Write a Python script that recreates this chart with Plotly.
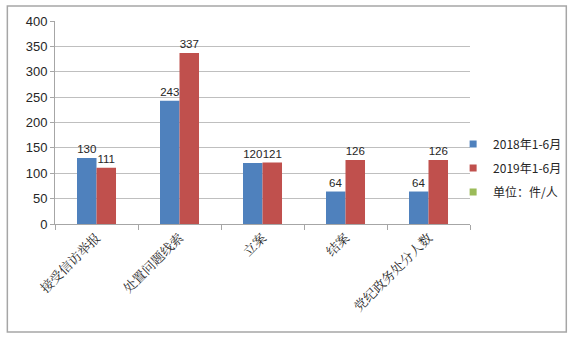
import plotly.graph_objects as go

categories = ["接受信访举报", "处置问题线索", "立案", "结案", "党纪政务处分人数"]
series_2018 = [130, 243, 120, 64, 64]
series_2019 = [111, 337, 121, 126, 126]
legend_names = ["2018年1-6月", "2019年1-6月", "单位：件/人"]
y_ticks = [0, 50, 100, 150, 200, 250, 300, 350, 400]

colors = ["#4F81BD", "#C0504D", "#9BBB59"]
label_font = dict(family="Liberation Sans, Arial, sans-serif", size=11.5, color="#262626")

fig = go.Figure()
for vals, name, col in [(series_2018, legend_names[0], colors[0]),
                        (series_2019, legend_names[1], colors[1])]:
    fig.add_trace(go.Bar(
        x=categories, y=vals, name=name, marker=dict(color=col, line=dict(width=0)),
        text=[str(v) for v in vals], textposition="outside", textfont=label_font,
        constraintext="none", cliponaxis=False, showlegend=False))

for i, name in enumerate(legend_names):
    fig.add_trace(go.Scatter(
        x=[None], y=[None], mode="markers", name=name, legendgroup=f"g{i}",
        marker=dict(symbol="square", size=7, color=colors[i])))

L, R, T, B = 55, 106, 21, 119
W, H = 579, 343
pw, ph = W - L - R, H - T - B

fig.update_layout(
    width=W, height=H,
    margin=dict(l=L, r=R, t=T, b=B, pad=0),
    paper_bgcolor="white", plot_bgcolor="white",
    barmode="group", bargap=0.53, bargroupgap=0,
    font=dict(family="Liberation Sans, Arial, sans-serif", size=13, color="#262626"),
    legend=dict(x=(476 - L - 20) / pw, xanchor="left", y=(H - B - 168) / ph, yanchor="middle",
                traceorder="grouped", tracegroupgap=5,
                font=dict(family="Noto Sans CJK SC, Liberation Sans, sans-serif", size=12, color="#262626"),
                itemwidth=30, bgcolor="rgba(0,0,0,0)"),
    shapes=[dict(type="rect", xref="paper", yref="paper",
                 x0=(7 - L) / pw, x1=(570 - L) / pw,
                 y0=(H - B - 332) / ph, y1=(H - B - 6) / ph,
                 line=dict(color="#A6A6A6", width=1.5), fillcolor="rgba(0,0,0,0)", layer="below")],
)

fig.update_yaxes(range=[0, 400], tickvals=y_ticks, showgrid=True, gridcolor="#BFBFBF", gridwidth=1,
                 showline=True, linecolor="#A6A6A6", linewidth=1, ticks="outside", ticklen=4,
                 tickcolor="#A6A6A6", zeroline=False, fixedrange=True,
                 tickfont=dict(family="Liberation Sans, Arial, sans-serif", size=13, color="#262626"))
fig.update_xaxes(type="category", tickangle=-45, tickson="boundaries", ticks="outside", ticklen=5,
                 tickcolor="#A6A6A6", showline=True, linecolor="#A6A6A6", linewidth=1,
                 showgrid=False, fixedrange=True,
                 tickfont=dict(family="Noto Serif CJK SC, Noto Sans CJK SC, serif", size=13, color="#262626"))

fig.write_html("out.html")
